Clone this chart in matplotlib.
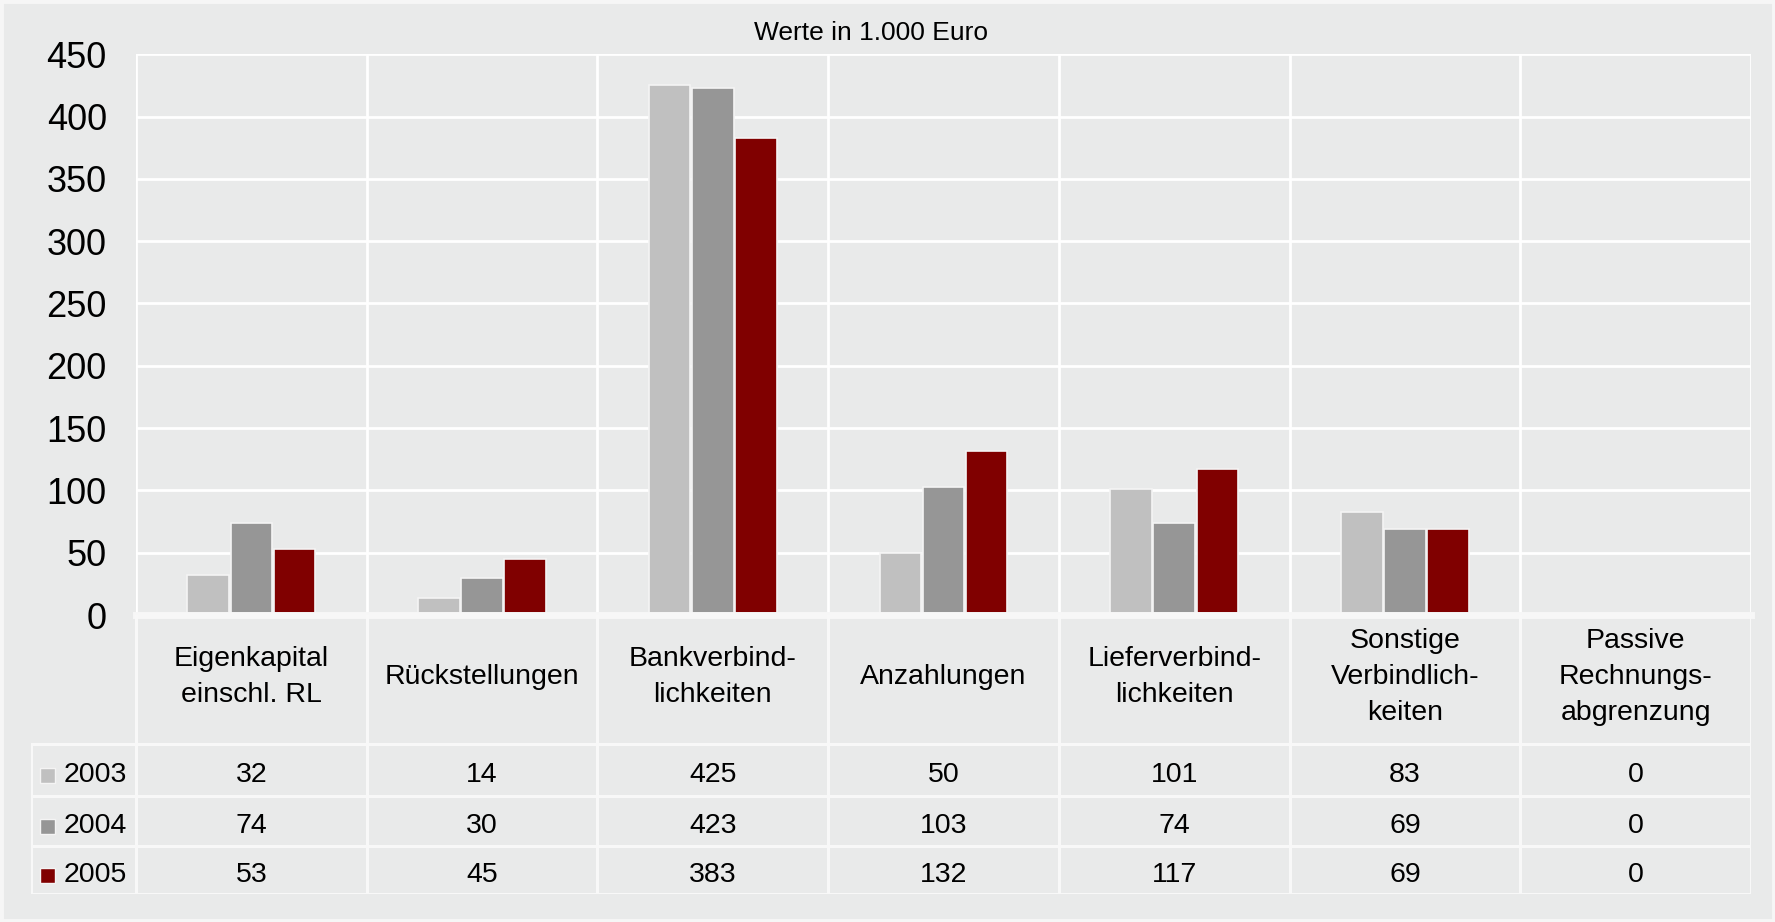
import matplotlib
matplotlib.use("Agg")
import matplotlib.pyplot as plt
from matplotlib.patches import Rectangle
import numpy as np

plt.rcParams['font.family'] = ['Liberation Sans', 'DejaVu Sans']

categories = ["Eigenkapital\neinschl. RL", "Rückstellungen", "Bankverbind-\nlichkeiten",
              "Anzahlungen", "Lieferverbind-\nlichkeiten", "Sonstige\nVerbindlich-\nkeiten",
              "Passive\nRechnungs-\nabgrenzung"]
years = ["2003", "2004", "2005"]
v2003 = [32, 14, 425, 50, 101, 83, 0]
v2004 = [74, 30, 423, 103, 74, 69, 0]
v2005 = [53, 45, 383, 132, 117, 69, 0]
series = [v2003, v2004, v2005]
colors = ["#c0c0c0", "#969696", "#800000"]
yticks = [0, 50, 100, 150, 200, 250, 300, 350, 400, 450]
title = "Werte in 1.000 Euro"

W, H = 1775, 922
BG = "#e9eaea"
LINE = "#ffffff"
fig = plt.figure(figsize=(W / 100, H / 100), dpi=100, facecolor=BG)
fig.patches.append(Rectangle((0, 0), 1, 1, transform=fig.transFigure, fill=False,
                             edgecolor="#f6f6f6", linewidth=5, zorder=0))

n = len(categories)
x_left_px, x_right_px = 136, 1751
y_top_px, y_zero_px = 54.3, 615
leg_left_px = 30.6
table_bottom_px = 894
col_w = (x_right_px - x_left_px) / n

ax = fig.add_axes([x_left_px / W, 1 - y_zero_px / H, (x_right_px - x_left_px) / W,
                   (y_zero_px - y_top_px) / H])
ax.set_facecolor(BG)
ax.set_xlim(-0.5, n - 0.5)
ax.set_ylim(0, 450)
for s in ax.spines.values():
    s.set_visible(False)
ax.set_yticks(yticks)
ax.set_yticklabels([str(t) for t in yticks], fontsize=26)
ax.tick_params(axis='y', length=0, pad=21)
ax.set_xticks([])
for t in yticks[1:]:
    ax.axhline(t, color=LINE, lw=2, zorder=1)
for i in range(n + 1):
    ax.axvline(i - 0.5, color=LINE, lw=2, zorder=1)
ax.axhline(0, color="#f7f7f7", lw=5, zorder=3, clip_on=False)

x = np.arange(n)
bw = 0.18
offs = [-0.187, 0, 0.187]
for vals, c, o in zip(series, colors, offs):
    ax.bar(x + o, vals, width=bw, color=c, edgecolor="#f4f4f4", linewidth=1.2, zorder=2)

fig.text(871 / W, 1 - 33 / H, title, ha='center', va='center', fontsize=19)

# table
tx = fig.add_axes([leg_left_px / W, 1 - table_bottom_px / H, (x_right_px - leg_left_px) / W,
                   (table_bottom_px - y_zero_px) / H])
tx.patch.set_alpha(0)
leg_units = (x_right_px - leg_left_px) / col_w - n
tx.set_xlim(-0.5 - leg_units, n - 0.5)
tx.set_ylim(table_bottom_px, y_zero_px)
tx.axis('off')

row_edges = [y_zero_px, 744, 796, 846, table_bottom_px]
lc = "#f8f8f8"
for i in range(n + 1):
    tx.plot([i - 0.5, i - 0.5], [y_zero_px, table_bottom_px], color=lc, lw=2.2)
tx.plot([-0.5 - leg_units, -0.5 - leg_units], [row_edges[1], table_bottom_px], color=lc, lw=2.2)
for yy in row_edges[1:]:
    tx.plot([-0.5 - leg_units, n - 0.5], [yy, yy], color=lc, lw=2.2)

for i, cat in enumerate(categories):
    tx.text(i, 677, cat, ha='center', va='center', fontsize=20.5, linespacing=1.48)

for r, (yr, vals, c) in enumerate(zip(years, series, colors)):
    yc = (row_edges[r + 1] + row_edges[r + 2]) / 2 + 5
    sq = 15 / col_w
    tx.add_patch(Rectangle((-0.5 - leg_units + 17 / col_w - sq / 2, yc - 7.5), sq, 15,
                           facecolor=c, edgecolor="#f4f4f4", lw=1))
    tx.text(-0.5 - leg_units + 33 / col_w, yc, yr, ha='left', va='center', fontsize=20.5)
    for i, v in enumerate(vals):
        tx.text(i, yc, str(v), ha='center', va='center', fontsize=20.5)

fig.savefig("out.png", dpi=100, facecolor=BG)
